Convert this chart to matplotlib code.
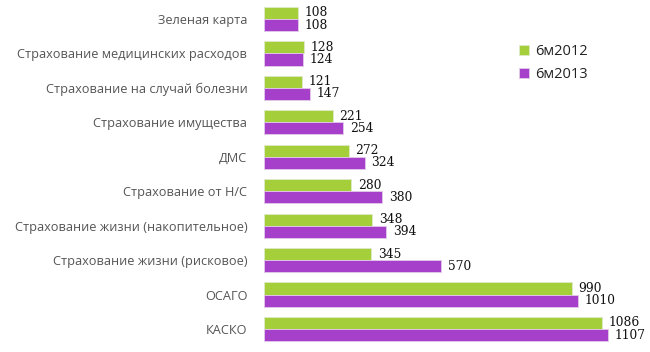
import matplotlib
matplotlib.use('Agg')
import matplotlib.pyplot as plt
import numpy as np

categories = ['Зеленая карта', 'Страхование медицинских расходов', 'Страхование на случай болезни',
              'Страхование имущества', 'ДМС', 'Страхование от Н/С',
              'Страхование жизни (накопительное)', 'Страхование жизни (рисковое)', 'ОСАГО', 'КАСКО']
v2012 = [108, 128, 121, 221, 272, 280, 348, 345, 990, 1086]
v2013 = [108, 124, 147, 254, 324, 380, 394, 570, 1010, 1107]
series_names = ['6м2012', '6м2013']

green = '#a5cf3a'
purple = '#a63fc9'

fig = plt.figure(figsize=(6.5, 3.52), dpi=100)
ax = fig.add_axes([264/650, 0, 373/650, 1])

y = np.arange(len(categories))
h = 0.35
b1 = ax.barh(y - h/2, v2012, height=h, color=green, edgecolor='#dfe9c8', linewidth=0.6, label=series_names[0])
b2 = ax.barh(y + h/2, v2013, height=h, color=purple, edgecolor='#e3cbea', linewidth=0.6, label=series_names[1])

# подписи значений
for yi, v in zip(y, v2012):
    ax.text(v + 22, yi - h/2, str(v), va='center', ha='left', fontsize=8.8, family='DejaVu Serif', color='#111111')
for yi, v in zip(y, v2013):
    ax.text(v + 22, yi + h/2, str(v), va='center', ha='left', fontsize=8.8, family='DejaVu Serif', color='#111111')

ax.set_xlim(0, 1200)
ax.set_ylim(9.668, -0.552)
ax.set_yticks(y)
ax.set_yticklabels(categories, fontsize=9.2, family='Open Sans', color='#555555')
ax.tick_params(axis='y', length=0, pad=12)
ax.set_xticks([])
for s in ax.spines.values():
    s.set_visible(False)

fig.legend(handles=[b1, b2], labels=series_names, loc='upper left', bbox_to_anchor=(506/650, 1 - 31/352),
           frameon=False, prop={'family': 'Open Sans', 'size': 10.5},
           handlelength=0.7, handleheight=0.7, handletextpad=0.4, labelspacing=0.55, labelcolor='#222222')

fig.savefig('out.png', dpi=100)
